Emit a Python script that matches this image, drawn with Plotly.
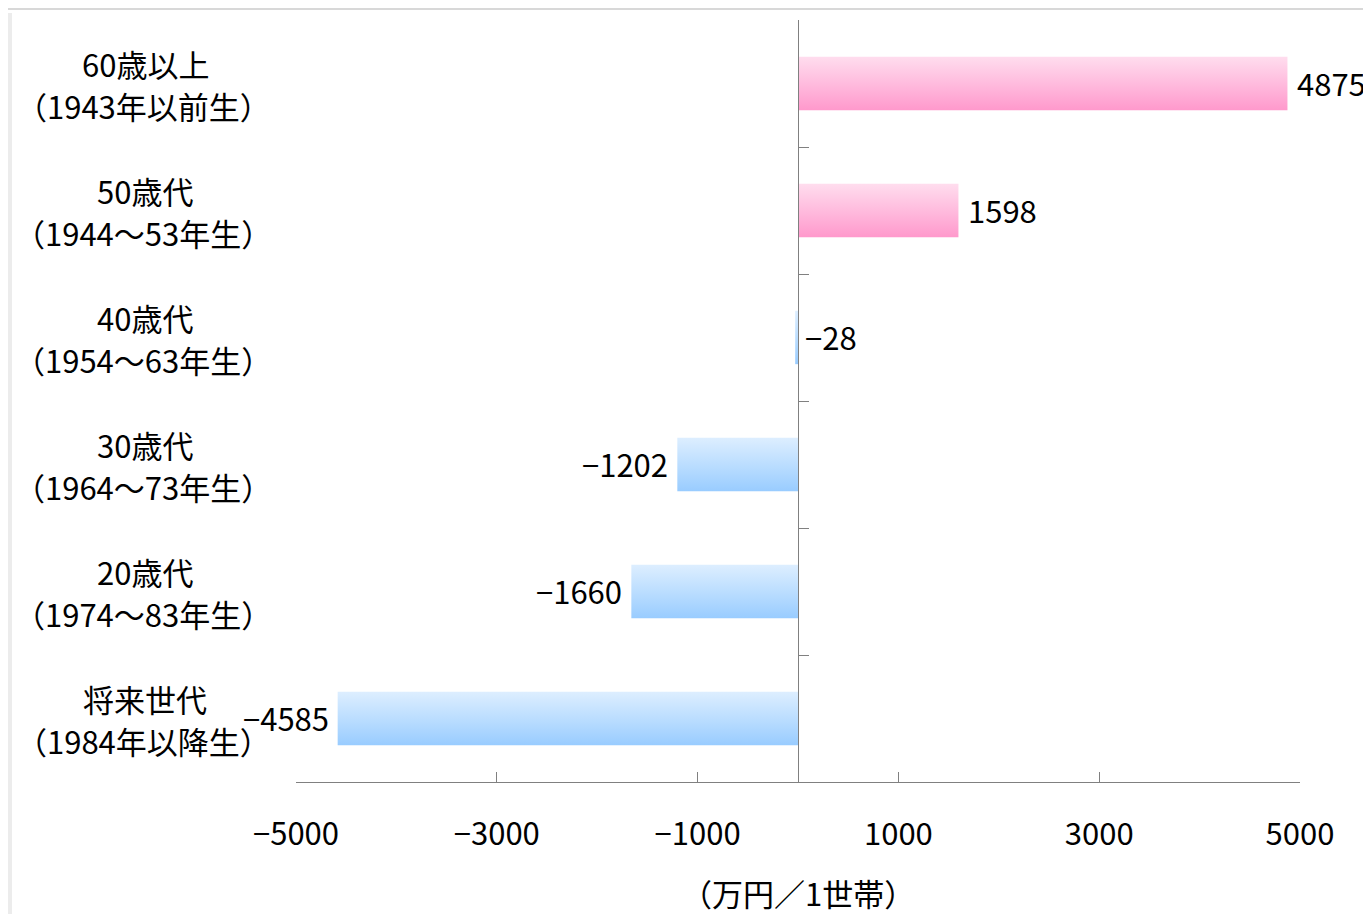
import plotly.graph_objects as go

# ---- data (top to bottom as shown) ----
age_groups = ["60歳以上", "50歳代", "40歳代", "30歳代", "20歳代", "将来世代"]
birth_years = ["（1943年以前生）", "（1944～53年生）", "（1954～63年生）",
               "（1964～73年生）", "（1974～83年生）", "（1984年以降生）"]
values = [4875, 1598, -28, -1202, -1660, -4585]
x_tick_vals = [-5000, -3000, -1000, 1000, 3000, 5000]
x_tick_text = ["−5000", "−3000", "−1000", "1000", "3000", "5000"]
x_title = "（万円／1世帯）"

FONT = "Noto Sans CJK JP"
FS = 31
n = len(values)
half = 0.21  # half bar thickness in category units
PLOT_W, PLOT_H = 1004, 762

pink = [[0, "#ff99cc"], [0.45, "#ffb8dc"], [1, "#ffddee"]]
blue = [[0, "#99ccff"], [0.45, "#b8dcff"], [1, "#ddeeff"]]

fig = go.Figure()
for i, v in enumerate(values):
    yc = n - 1 - i
    fig.add_trace(go.Scatter(
        x=[0, v, v, 0, 0],
        y=[yc - half, yc - half, yc + half, yc + half, yc - half],
        mode="lines", line=dict(width=0), fill="toself",
        fillgradient=dict(type="vertical", colorscale=pink if v >= 0 else blue),
        hoverinfo="skip", showlegend=False,
    ))

txt = dict(family=FONT, size=FS, color="black")
annotations = []
for i, (a, b, v) in enumerate(zip(age_groups, birth_years, values)):
    yc = n - 1 - i
    annotations.append(dict(
        x=-0.150, xref="paper", y=yc, yref="y", text=a, yshift=20,
        showarrow=False, xanchor="center", yanchor="middle", font=txt))
    annotations.append(dict(
        x=-0.152, xref="paper", y=yc, yref="y", text=b, yshift=-22,
        showarrow=False, xanchor="center", yanchor="middle", font=txt))
    right = v >= 0 or abs(v) < 100
    annotations.append(dict(
        x=v, xref="x", y=yc, yref="y", text=str(v).replace("-", "−"),
        showarrow=False, xanchor="left" if right else "right", yanchor="middle",
        xshift=8 if right else -7, yshift=1, font=txt))

annotations.append(dict(
    x=0.5, xref="paper", y=-110 / PLOT_H, yref="paper", text=x_title, showarrow=False,
    xanchor="center", yanchor="middle", font=txt))

fig.update_layout(
    width=1363, height=906,
    margin=dict(l=288, r=71, t=12, b=132),
    paper_bgcolor="white", plot_bgcolor="white",
    font=txt,
    xaxis=dict(range=[-5000, 5000], tickvals=x_tick_vals, ticktext=x_tick_text,
               showline=True, linecolor="#808080", linewidth=1.3,
               ticks="inside", ticklen=10, tickcolor="#808080", tickwidth=1.3,
               showgrid=False, zeroline=False, ticklabelstandoff=25,
               fixedrange=True),
    yaxis=dict(range=[-0.5, n - 0.5], tickvals=[k - 0.5 for k in range(n + 1)],
               showticklabels=False, showline=True, linecolor="#808080", linewidth=1.3,
               ticks="inside", ticklen=10, tickcolor="#808080", tickwidth=1.3,
               showgrid=False, zeroline=False, anchor="free", position=0.5,
               fixedrange=True),
    annotations=annotations,
    shapes=[
        dict(type="line", xref="paper", yref="paper", x0=-0.3, x1=1.1,
             y0=1 + 11 / PLOT_H, y1=1 + 11 / PLOT_H, line=dict(color="#d8d8d8", width=2)),
        dict(type="rect", xref="paper", yref="paper", x0=-296 / PLOT_W, x1=-284 / PLOT_W,
             y0=-0.2, y1=1 + 7 / PLOT_H, fillcolor="#ececec", line=dict(width=0)),
    ],
)

fig.write_html("out.html")
